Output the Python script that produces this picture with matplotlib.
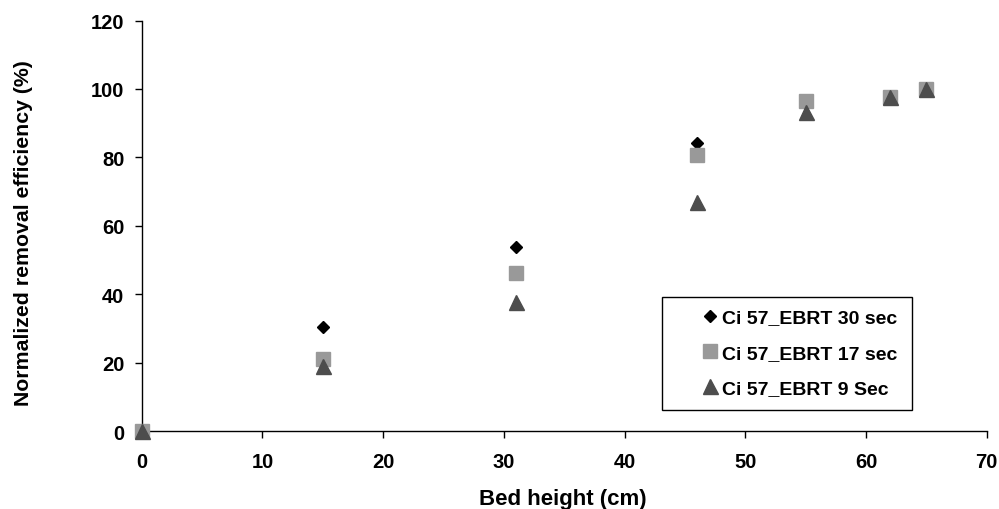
import numpy as np
import matplotlib
matplotlib.use("Agg")
import matplotlib.pyplot as plt
from matplotlib.patches import Rectangle

plt.rcParams['font.family'] = ['Liberation Sans', 'DejaVu Sans']
plt.rcParams['font.weight'] = 'bold'

# bed height (cm) and normalized removal efficiency (%) per EBRT
height_30 = [0, 15, 31, 46, 55, 62, 65]
eff_30 = [0, 30.4, 53.7, 84.2, 96.0, 97.8, 100]

height_17 = [0, 15, 31, 46, 55, 62, 65]
eff_17 = [0, 21.0, 46.2, 80.8, 96.6, 97.7, 99.9]

height_9 = [0, 15, 31, 46, 55, 62, 65]
eff_9 = [0, 19.0, 37.8, 66.9, 93.2, 97.5, 100]

labels = ['Ci 57_EBRT 30 sec', 'Ci 57_EBRT 17 sec', 'Ci 57_EBRT 9 Sec']

fig = plt.figure(figsize=(9.99, 5.10), dpi=100)
ax = fig.add_axes([0.1418, 0.1529, 0.8459, 0.8049])

ax.plot(height_30, eff_30, linestyle='none', marker='D', markersize=6.4,
        color='black', label=labels[0])
ax.plot(height_17, eff_17, linestyle='none', marker='s', markersize=10,
        color='#999999', label=labels[1])
ax.plot(height_9, eff_9, linestyle='none', marker='^', markersize=10.8,
        color='#4d4d4d', label=labels[2])

ax.set_xlim(0, 70)
ax.set_ylim(0, 120)
ax.set_xticks(np.arange(0, 71, 10))
ax.set_yticks(np.arange(0, 121, 20))
for side in ['top', 'right']:
    ax.spines[side].set_visible(False)
for side in ['left', 'bottom']:
    ax.spines[side].set_linewidth(1.0)
    ax.spines[side].set_color('black')
    ax.spines[side].set_zorder(1)

ax.tick_params(axis='x', length=5, width=1, pad=10, labelsize=14.5)
ax.tick_params(axis='y', length=5, width=1, pad=7.4, labelsize=14.5)
for t in ax.get_xticklabels() + ax.get_yticklabels():
    t.set_fontweight('bold')

ax.set_xlabel('Bed height (cm)', fontsize=16, fontweight='bold')
ax.set_ylabel('Normalized removal efficiency (%)', fontsize=15.3, fontweight='bold')
ax.xaxis.set_label_coords(0.4986, -0.138)
ax.yaxis.set_label_coords(-0.1286, 0.4836)

# legend text and markers, framed by a plain box
leg = ax.legend(loc='center left', bbox_to_anchor=(0.661, 0.19), frameon=False,
                borderpad=0, borderaxespad=0, handlelength=1.0, handletextpad=0.1,
                labelspacing=0.91, numpoints=1,
                prop={'family': 'Liberation Sans', 'weight': 'bold', 'size': 14})
ax.add_patch(Rectangle((0.6154, 0.0519), 0.2962, 0.2741, transform=ax.transAxes,
                       fill=False, edgecolor='black', linewidth=1.0, zorder=5,
                       clip_on=False))

for l in ax.lines:
    l.set_clip_on(False)

fig.savefig('out.png', dpi=100)
